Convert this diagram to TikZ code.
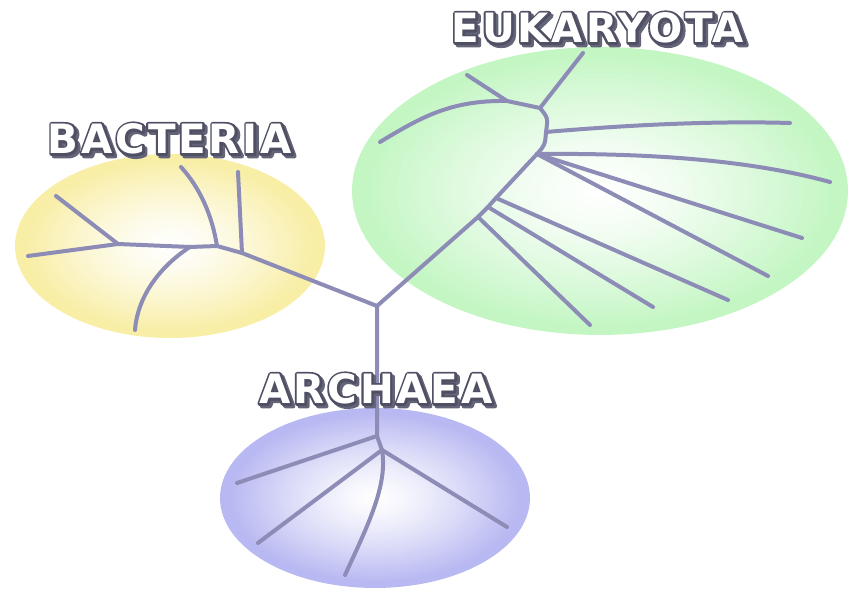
\documentclass[tikz,border=0pt]{standalone}
\usepackage{fontspec}
\usepackage{xcolor}
\newfontfamily\domainfont[LetterSpace=7]{DejaVu Sans}
\definecolor{treeline}{RGB}{140,140,182}
\definecolor{labeldark}{RGB}{80,80,100}
\definecolor{labelshadow}{RGB}{100,100,120}
\definecolor{bacfill}{RGB}{248,238,165}
\definecolor{eukfill}{RGB}{196,246,196}
\definecolor{arcfill}{RGB}{184,184,242}
\usepackage{tikz}
\usetikzlibrary{calc}
% stroked glyphs for the outlined names
\newcommand{\strokedtext}[2]{\special{pdf:literal direct 2 Tr #1 w 1 j}#2\special{pdf:literal direct 0 Tr}}
% soft cloud: white centre fading to colour
\newcommand{\cloud}[4]{%
  \foreach \k in {0,...,44} {
    \pgfmathsetmacro{\rr}{1-\k/45}
    \pgfmathsetmacro{\pp}{100*(min(1,\rr/0.95))^1.3}
    \fill[#4!\pp!white] (#1) ellipse [x radius=\rr*#2, y radius=\rr*#3];
  }
}
\tikzset{
  branch/.style={draw=treeline, line width=0.08cm, line cap=round, line join=round},
  domaintext/.style={font=\domainfont\bfseries\fontsize{23}{26}\selectfont, inner sep=0pt, text=white},
  domainoutline/.style={domaintext, text=labeldark},
  domainshadow/.style={domaintext, text=labelshadow}
}
\newcommand{\domainname}[3]{%
  \node[domainshadow] (#1-s) at ($(#2)+(2.5,2.5)$) {\strokedtext{2.6}{#3}};
  \node[domainoutline] (#1-o) at (#2) {\strokedtext{2.6}{#3}};
  \node[domaintext] (#1) at (#2) {#3};
}
\begin{document}
\begin{tikzpicture}[x=0.02cm, y=-0.02cm]
  \useasboundingbox (0,0) rectangle (856,590);

  % domain clouds
  \cloud{170,246}{3.1cm}{1.84cm}{bacfill}
  \cloud{600,191}{4.96cm}{2.88cm}{eukfill}
  \cloud{375,498}{3.1cm}{1.8cm}{arcfill}

  % tree junctions and tips
  \coordinate (root) at (377,306);
  % Bacteria
  \coordinate (b1) at (242,253);
  \coordinate (b2) at (217,246);
  \coordinate (b3) at (190,247);
  \coordinate (b4) at (118,244);
  \coordinate (b1tip) at (238,172);
  \coordinate (b2tip) at (181,167);
  \coordinate (b3tip) at (135,330);
  \coordinate (b4tip) at (56,196);
  \coordinate (b5tip) at (28,256);
  % Eukaryota
  \coordinate (e1) at (488,207);
  \coordinate (e2) at (537,154);
  \coordinate (e3) at (546,132);
  \coordinate (e4) at (540,108);
  \coordinate (e5) at (507,101);
  \coordinate (e6) at (496,198);
  \coordinate (e8) at (478,217);
  \coordinate (e4tip) at (583,53);
  \coordinate (e5tip) at (467,75);
  \coordinate (e5end) at (380,142);
  \coordinate (e3tip) at (790,123);
  \coordinate (e2tipa) at (830,182);
  \coordinate (e2tipb) at (802,238);
  \coordinate (e2tipc) at (768,276);
  \coordinate (e6tip) at (728,300);
  \coordinate (e7tip) at (653,307);
  \coordinate (e8tip) at (590,325);
  % Archaea
  \coordinate (a1) at (377,436);
  \coordinate (a2) at (382,450);
  \coordinate (a1tip) at (237,483);
  \coordinate (a2tipa) at (258,543);
  \coordinate (a2tipb) at (345,575);
  \coordinate (a2tipc) at (507,527);

  % Bacteria branches
  \draw[branch] (root) -- (b1) -- (b2) -- (b3) -- (b4) -- (b5tip);
  \draw[branch] (b1) -- (b1tip);
  \draw[branch] (b2) .. controls (212,215) and (200,188) .. (b2tip);
  \draw[branch] (b3) .. controls (165,263) and (138,292) .. (b3tip);
  \draw[branch] (b4) -- (b4tip);

  % Eukaryota branches
  \draw[branch] (root) -- (e8) -- (e1) -- (e6) -- (e2) .. controls (545,145) .. (e3) .. controls (548,118) .. (e4) -- (e4tip);
  \draw[branch] (e4) -- (e5) .. controls (450,100) and (420,118) .. (e5end);
  \draw[branch] (e5) -- (e5tip);
  \draw[branch] (e3) .. controls (640,124) and (720,121) .. (e3tip);
  \draw[branch] (e2) .. controls (650,153) and (750,160) .. (e2tipa);
  \draw[branch] (e2) -- (e2tipb);
  \draw[branch] (e2) -- (e2tipc);
  \draw[branch] (e6) -- (e6tip);
  \draw[branch] (e1) -- (e7tip);
  \draw[branch] (e8) -- (e8tip);

  % Archaea branches
  \draw[branch] (root) -- (a1) -- (a2) -- (a2tipc);
  \draw[branch] (a1) -- (a1tip);
  \draw[branch] (a2) -- (a2tipa);
  \draw[branch] (a2) .. controls (388,485) and (368,525) .. (a2tipb);

  % domain names
  \domainname{bacteria}{170,139}{BACTERIA}
  \domainname{eukaryota}{598,28}{EUKARYOTA}
  \domainname{archaea}{376,389}{ARCHAEA}
\end{tikzpicture}
\end{document}
